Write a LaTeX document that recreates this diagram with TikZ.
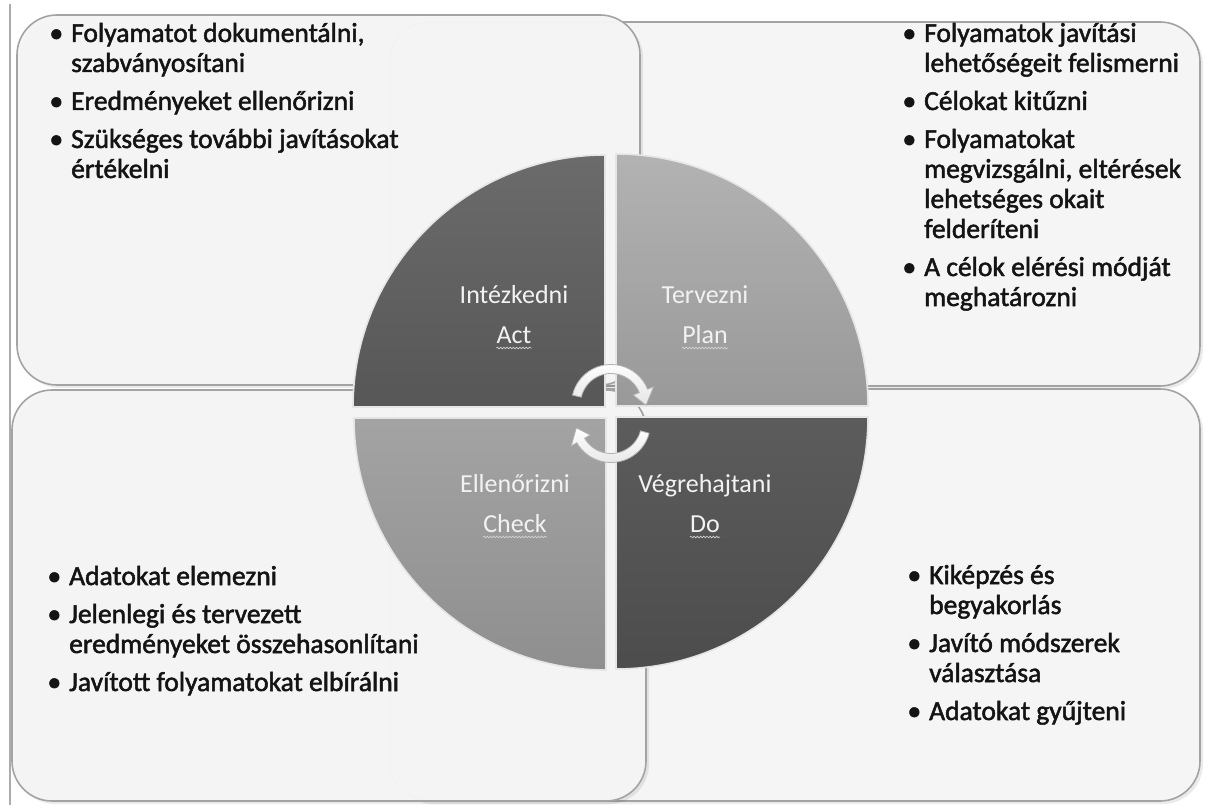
\documentclass[tikz,border=0pt]{standalone}
\usepackage{fontspec}
\setmainfont{Carlito}
\newfontfamily\itemfont{Carlito}[FakeBold=1.8]
\usetikzlibrary{decorations.pathmorphing}
\definecolor{panelfill}{HTML}{F5F5F5}
\definecolor{panelrim}{HTML}{A3A3A3}
\definecolor{inktext}{HTML}{141414}
\definecolor{labeltext}{HTML}{F2F2F2}
\newcommand\bulletmark{\llap{\textbullet\hspace{8pt}}}

\begin{document}
\begin{tikzpicture}[x=1pt,y=-1pt,
  panel/.style={fill=panelfill, draw=panelrim, line width=1.6pt, rounded corners=40pt},
  panelshadow/.style={fill=black, fill opacity=0.08, rounded corners=40pt},
  item/.style={anchor=base west, inner sep=0pt, text=inktext,
    font=\itemfont\fontsize{27.5}{30}\selectfont},
  qlabel/.style={anchor=base, inner sep=0pt, text=labeltext, font=\fontsize{26}{30}\selectfont},
  squiggle/.style={draw=gray!35, line width=0.7pt, decorate,
    decoration={snake, amplitude=0.8pt, segment length=3.2pt}},
  quadrim/.style={draw=white!80!gray, line width=1.6pt},
  cyclearrow/.style={top color=white, bottom color=gray!20, draw=gray!60, line width=0.8pt}
]
\useasboundingbox (0,0) rectangle (1206,805);
\fill[white] (0,0) rectangle (1206,805);

% page rule on the left
\draw[gray!65, line width=1.8pt] (10,4) -- (10,805);

% text panels with soft shadows
\path[panelshadow] (393,25) rectangle (1203,389);
\path[panel] (390,22) rectangle (1200,386);
\path[panelshadow] (20,18) rectangle (643,388);
\path[panel, fill opacity=0.97] (17,15) rectangle (640,385);
\path[panelshadow] (393,392) rectangle (1203,804);
\path[panel] (390,389) rectangle (1200,801);
\path[panelshadow] (15,393) rectangle (649,804);
\path[panel, fill opacity=0.97] (12,390) rectangle (646,801);

% four quadrants of the cycle
\path[quadrim, top color=black!58, bottom color=black!66]
  (605,407) -- (353,407) arc[start angle=180, end angle=270, radius=252] -- cycle;
\path[quadrim, top color=black!30, bottom color=black!40]
  (616,406) -- (616,154) arc[start angle=270, end angle=360, radius=252] -- cycle;
\path[quadrim, top color=black!64, bottom color=black!70]
  (616,417) -- (868,417) arc[start angle=0, end angle=90, radius=252] -- cycle;
\path[quadrim, top color=black!36, bottom color=black!44]
  (606,418) -- (606,670) arc[start angle=90, end angle=180, radius=252] -- cycle;

% circular arrows in the middle
\begin{scope}[shift={(611,404)}]
  \path[cyclearrow] (193:39.5) arc[start angle=193, end angle=338, radius=39.5]
    -- (338:46) -- (362:35) -- (338:24) -- (338:30.5)
    arc[start angle=338, end angle=193, radius=30.5] -- cycle;
\end{scope}
\begin{scope}[shift={(611,423)}]
  \path[cyclearrow] (15:39.5) arc[start angle=15, end angle=150, radius=39.5]
    -- (150:46) -- (172:35) -- (150:24) -- (150:30.5)
    arc[start angle=150, end angle=15, radius=30.5] -- cycle;
\end{scope}

% quadrant labels
\node[qlabel] (act1) at (514,303) {Intézkedni};
\node[qlabel] (act2) at (514,343) {Act};
\node[qlabel] (plan1) at (705,303) {Tervezni};
\node[qlabel] (plan2) at (705,343) {Plan};
\node[qlabel] (chk1) at (515,492) {Ellenőrizni};
\node[qlabel] (chk2) at (515,532) {Check};
\node[qlabel] (do1) at (705,492) {Végrehajtani};
\node[qlabel] (do2) at (705,532) {Do};
\foreach \n in {act2,plan2,chk2,do2}
  \draw[squiggle] ([yshift=-5pt]\n.base west) -- ([yshift=-5pt]\n.base east);

% Act panel
\node[item] (tl1) at (71,42) {\bulletmark Folyamatot dokumentálni,};
\node[item] (tl2) at (71,72) {szabványosítani};
\node[item] (tl3) at (71,110) {\bulletmark Eredményeket ellenőrizni};
\node[item] (tl4) at (71,148) {\bulletmark Szükséges további javításokat};
\node[item] (tl5) at (71,178) {értékelni};

% Plan panel
\node[item] (tr1) at (924,42) {\bulletmark Folyamatok javítási};
\node[item] (tr2) at (924,72) {lehetőségeit felismerni};
\node[item] (tr3) at (924,110) {\bulletmark Célokat kitűzni};
\node[item] (tr4) at (924,148) {\bulletmark Folyamatokat};
\node[item] (tr5) at (924,178) {megvizsgálni, eltérések};
\node[item] (tr6) at (924,208) {lehetséges okait};
\node[item] (tr7) at (924,238) {felderíteni};
\node[item] (tr8) at (924,276) {\bulletmark A célok elérési módját};
\node[item] (tr9) at (924,306) {meghatározni};

% Check panel
\node[item] (bl1) at (69,585) {\bulletmark Adatokat elemezni};
\node[item] (bl2) at (69,623) {\bulletmark Jelenlegi és tervezett};
\node[item] (bl3) at (69,653) {eredményeket összehasonlítani};
\node[item] (bl4) at (69,691) {\bulletmark Javított folyamatokat elbírálni};

% Do panel
\node[item] (br1) at (929,584) {\bulletmark Kiképzés és};
\node[item] (br2) at (929,614) {begyakorlás};
\node[item] (br3) at (929,652) {\bulletmark Javító módszerek};
\node[item] (br4) at (929,682) {választása};
\node[item] (br5) at (929,720) {\bulletmark Adatokat gyűjteni};
\end{tikzpicture}
\end{document}
